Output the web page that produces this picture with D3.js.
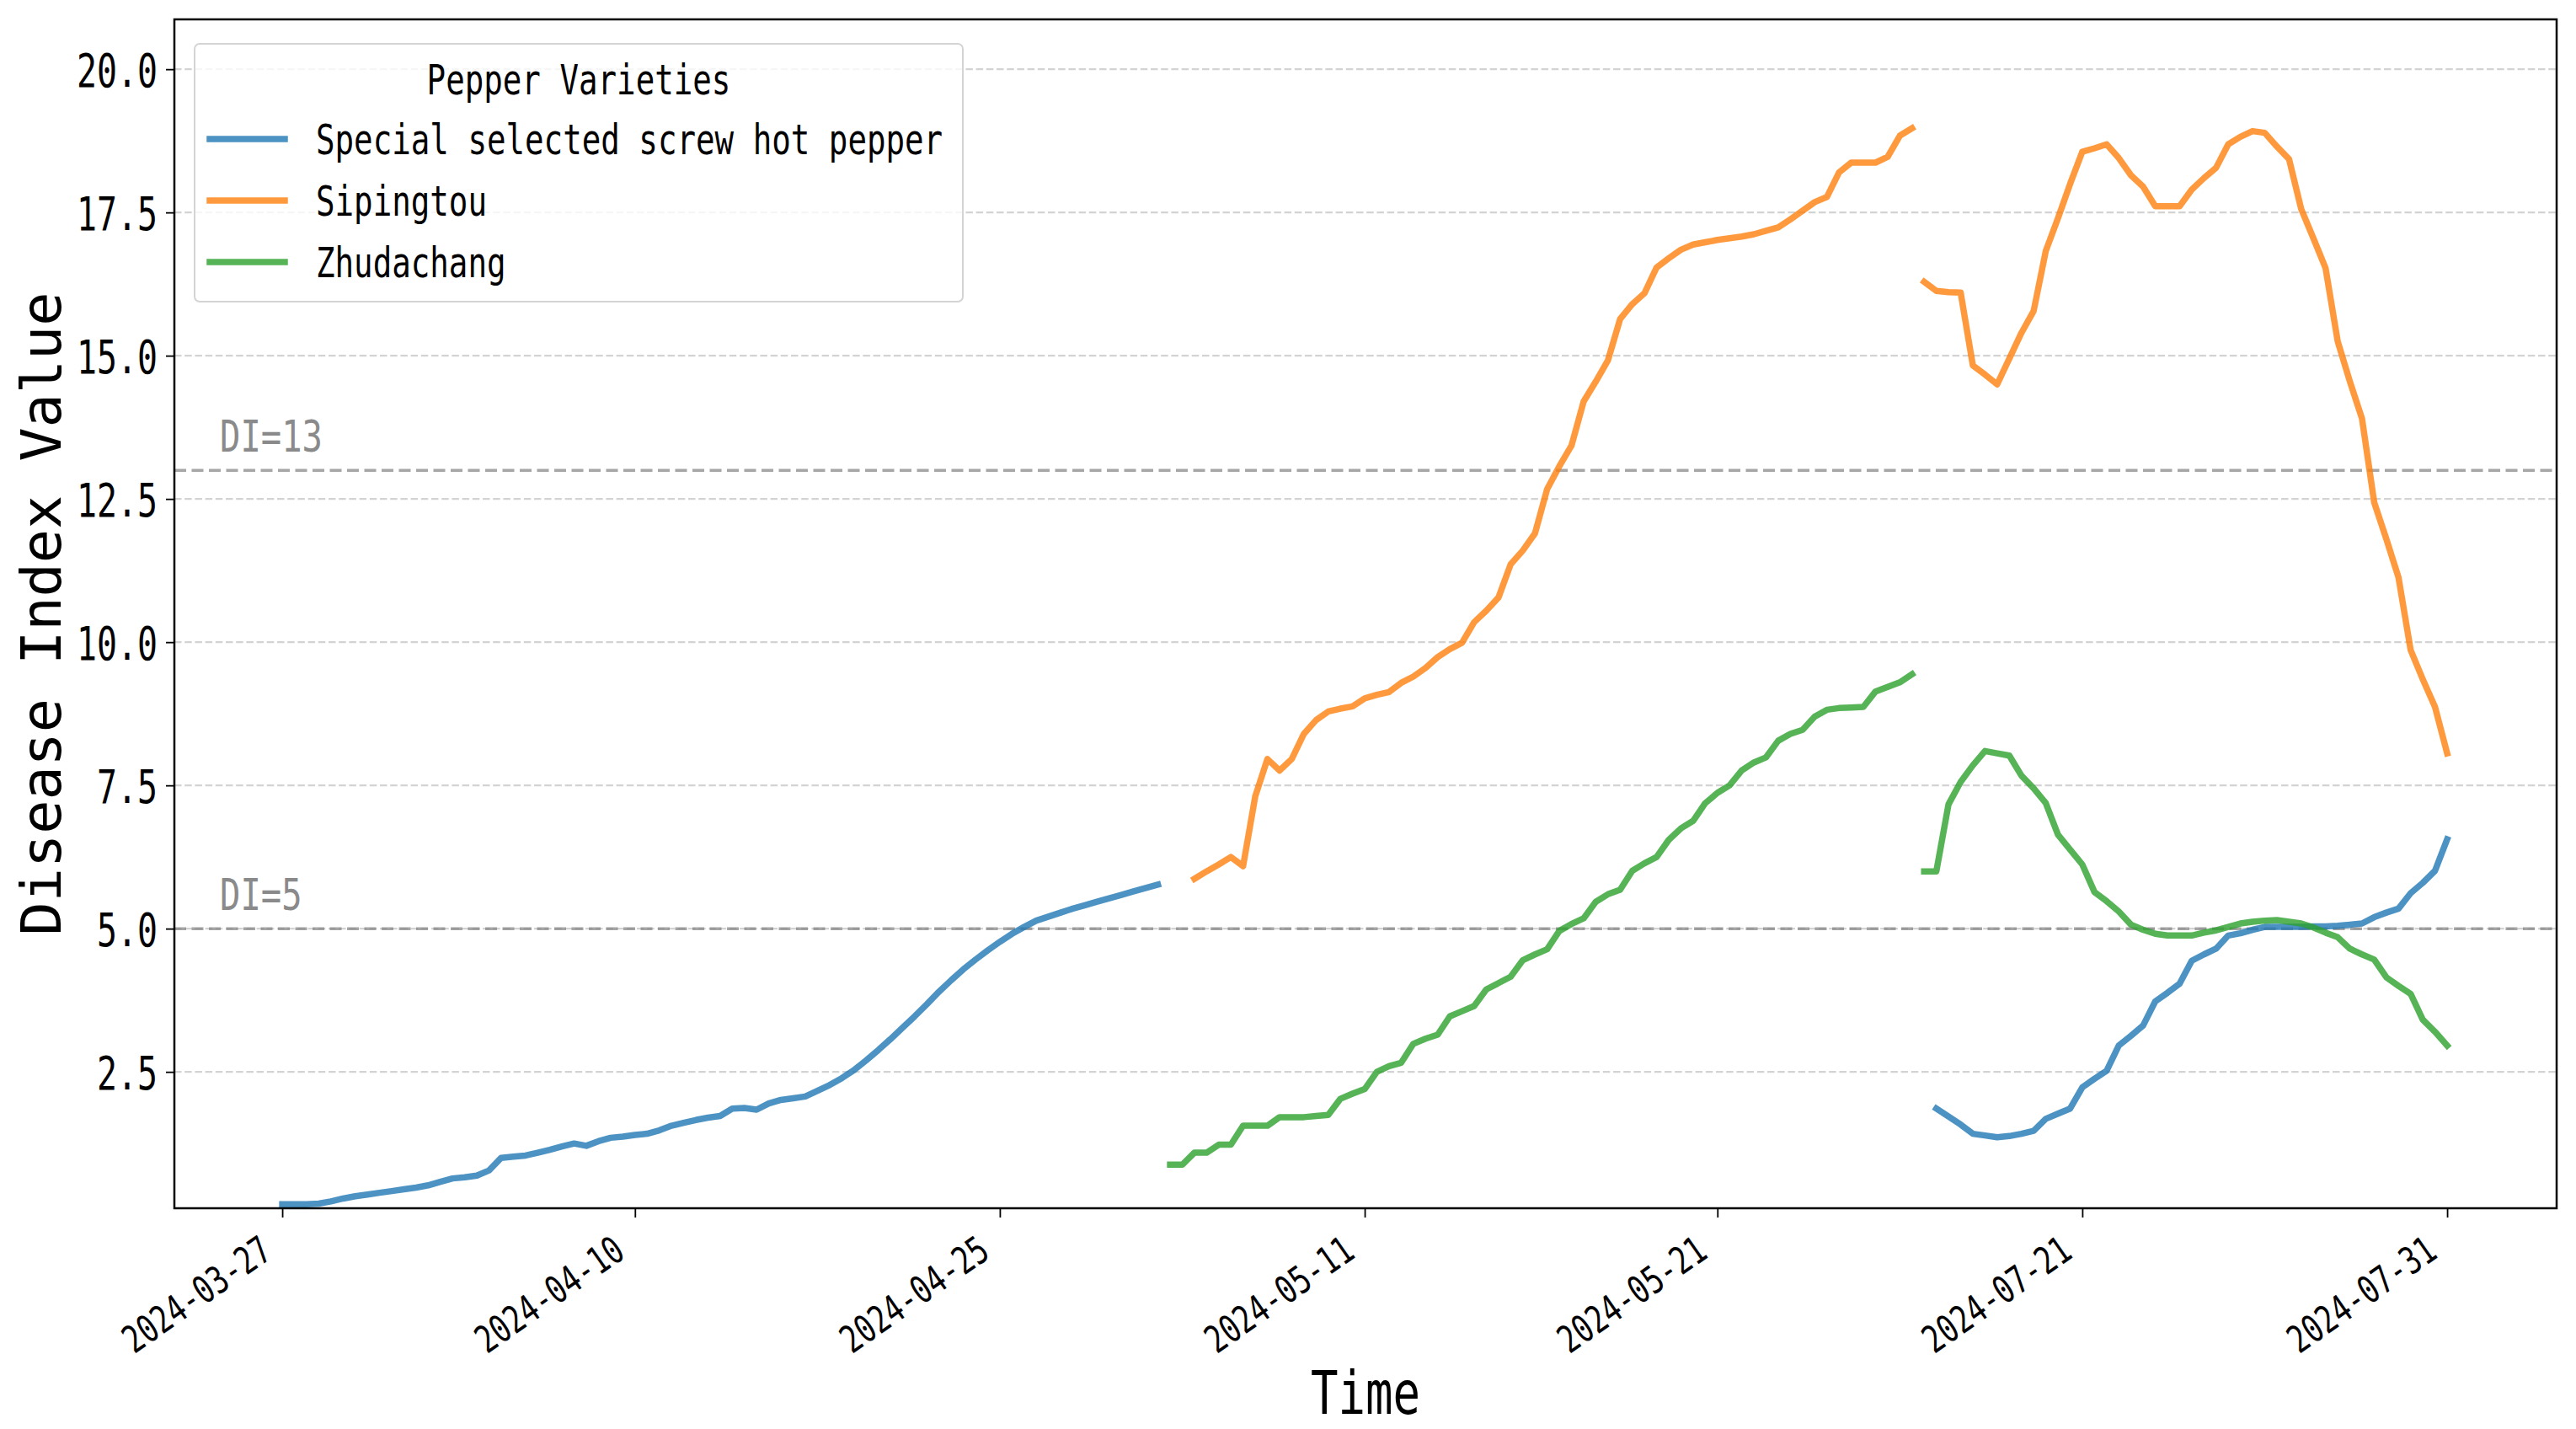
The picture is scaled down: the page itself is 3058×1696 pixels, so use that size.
<!DOCTYPE html>
<html>
<head>
<meta charset="utf-8">
<script src="https://cdn.jsdelivr.net/npm/d3@7"></script>
<style>
  html, body { margin: 0; padding: 0; background: #ffffff; }
  svg { display: block; }
</style>
</head>
<body>
<svg id="chart" width="3058" height="1696"></svg>
<script>
// ---------------- DATA ----------------
const seriesNames = ["Special selected screw hot pepper", "Sipingtou", "Zhudachang"];
const seriesColors = ["#1f77b4", "#ff7f0e", "#2ca02c"];

const xTickIndex = [0, 29, 59, 89, 118, 148, 178];
const xTickLabels = ["2024-03-27", "2024-04-10", "2024-04-25", "2024-05-11", "2024-05-21", "2024-07-21", "2024-07-31"];
const yTickValues = [2.5, 5.0, 7.5, 10.0, 12.5, 15.0, 17.5, 20.0];

const thresholdValues = [13, 5];
const thresholdLabels = ["DI=13", "DI=5"];

// Special selected screw hot pepper, period 1 (starts at index 0)
const pepperPeriod1Start = 0;
const pepperPeriod1 = [0.19,0.19,0.19,0.20,0.24,0.29,0.33,0.36,0.39,0.42,0.45,0.48,0.52,0.58,0.64,0.66,0.69,0.78,1.00,1.02,
  1.04,1.09,1.14,1.20,1.25,1.21,1.29,1.35,1.37,1.40,1.42,1.48,1.56,1.61,1.66,1.70,1.73,1.86,1.87,1.84,
  1.95,2.01,2.04,2.07,2.17,2.27,2.39,2.53,2.70,2.88,3.07,3.27,3.47,3.68,3.90,4.10,4.29,4.46,4.62,4.77,
  4.91,5.03,5.14,5.21,5.28,5.35,5.41,5.47,5.53,5.59,5.65,5.71,5.77];

// Special selected screw hot pepper, period 3 (starts at index 136)
const pepperPeriod3Start = 136;
const pepperPeriod3 = [1.86,1.72,1.58,1.42,1.39,1.36,1.38,1.42,1.47,1.68,1.77,1.86,2.23,2.38,2.52,2.96,3.13,3.31,3.73,3.88,
  4.04,4.44,4.55,4.65,4.88,4.92,4.98,5.03,5.03,5.03,5.03,5.04,5.04,5.05,5.07,5.09,5.20,5.28,5.35,5.62,
  5.80,6.01,6.56];

// Sipingtou, period 2 (starts at index 75)
const sipingtouPeriod2Start = 75;
const sipingtouPeriod2 = [5.87,6.00,6.12,6.25,6.09,7.31,7.96,7.76,7.96,8.40,8.64,8.79,8.84,8.88,9.02,9.08,9.13,9.29,9.40,9.55,
  9.74,9.88,9.99,10.35,10.55,10.78,11.36,11.60,11.90,12.67,13.07,13.43,14.20,14.55,14.92,15.64,15.90,16.09,16.54,16.70,
  16.85,16.94,16.98,17.02,17.05,17.08,17.12,17.18,17.24,17.38,17.53,17.68,17.77,18.20,18.37,18.37,18.37,18.47,18.84,18.97];

// Sipingtou, period 3 (starts at index 135)
const sipingtouPeriod3Start = 135;
const sipingtouPeriod3 = [16.29,16.13,16.11,16.10,14.83,14.67,14.50,14.95,15.40,15.78,16.83,17.40,18.00,18.56,18.62,18.69,18.45,18.15,17.95,17.61,
  17.61,17.61,17.90,18.10,18.28,18.69,18.82,18.92,18.89,18.65,18.43,17.56,17.05,16.53,15.25,14.55,13.90,12.44,11.80,11.13,
  9.86,9.35,8.87,8.06];

// Zhudachang, period 2 (starts at index 73)
const zhudachangPeriod2Start = 73;
const zhudachangPeriod2 = [0.88,0.88,1.09,1.09,1.23,1.23,1.56,1.56,1.56,1.71,1.71,1.71,1.73,1.75,2.03,2.12,2.20,2.50,2.60,2.66,
  2.99,3.08,3.15,3.47,3.56,3.65,3.94,4.05,4.16,4.45,4.55,4.64,4.96,5.08,5.18,5.47,5.60,5.68,6.01,6.14,
  6.25,6.55,6.75,6.88,7.19,7.37,7.50,7.76,7.90,7.99,8.28,8.40,8.47,8.70,8.82,8.85,8.86,8.87,9.14,9.22,
  9.30,9.44];

// Zhudachang, period 3 (starts at index 135)
const zhudachangPeriod3Start = 135;
const zhudachangPeriod3 = [6.00,6.00,7.17,7.56,7.85,8.10,8.06,8.02,7.67,7.45,7.19,6.64,6.38,6.12,5.64,5.48,5.30,5.07,4.98,4.91,
  4.88,4.88,4.88,4.93,4.97,5.03,5.09,5.12,5.14,5.15,5.12,5.09,5.02,4.93,4.85,4.65,4.55,4.46,4.15,4.00,
  3.86,3.41,3.20,2.96];

// ---------------- LAYOUT ----------------
const W = 3058, H = 1696;
const L = 207, R = 3035, T = 23, B = 1434;
const FONT = "'DejaVu Sans Mono', 'Liberation Mono', monospace";

const svg = d3.select("#chart");
svg.append("rect").attr("width", W).attr("height", H).attr("fill", "#ffffff");

const x = d3.scaleLinear().domain([-8.87, 187.0]).range([L, R]);
const y = d3.scaleLinear().domain([0.12, 20.87]).range([B, T]);

function mono(sel, fs, adv) {
  sel.attr("font-family", FONT)
     .attr("font-size", fs)
     .attr("textLength", function () { return this.textContent.length * adv; })
     .attr("lengthAdjust", "spacingAndGlyphs");
  return sel;
}

svg.append("defs").append("clipPath").attr("id", "plotclip")
  .append("rect").attr("x", L).attr("y", T).attr("width", R - L).attr("height", B - T);

// grid
const grid = svg.append("g");
grid.selectAll("line").data(yTickValues).join("line")
  .attr("x1", L).attr("x2", R)
  .attr("y1", d => y(d)).attr("y2", d => y(d))
  .attr("stroke", "#c8c8c8").attr("stroke-width", 2.2)
  .attr("stroke-dasharray", "8.5,3.7").attr("stroke-opacity", 0.8);

// threshold lines
const thr = svg.append("g");
thr.selectAll("line").data(thresholdValues).join("line")
  .attr("x1", L).attr("x2", R)
  .attr("y1", d => y(d)).attr("y2", d => y(d))
  .attr("stroke", "#808080").attr("stroke-opacity", 0.7).attr("stroke-width", 3.5)
  .attr("stroke-dasharray", "14,6.5");
mono(thr.selectAll("text").data(thresholdLabels).join("text")
  .attr("x", 261)
  .attr("y", (d, i) => y(thresholdValues[i]) - 22)
  .attr("fill", "#8a8a8a")
  .text(d => d), 52, 24.4);

// series lines
const segments = [
  { s: 0, start: pepperPeriod1Start, vals: pepperPeriod1 },
  { s: 0, start: pepperPeriod3Start, vals: pepperPeriod3 },
  { s: 1, start: sipingtouPeriod2Start, vals: sipingtouPeriod2 },
  { s: 1, start: sipingtouPeriod3Start, vals: sipingtouPeriod3 },
  { s: 2, start: zhudachangPeriod2Start, vals: zhudachangPeriod2 },
  { s: 2, start: zhudachangPeriod3Start, vals: zhudachangPeriod3 }
];
const line = d3.line().x(d => x(d[0])).y(d => y(d[1]));
const lines = svg.append("g").attr("clip-path", "url(#plotclip)");
segments.forEach(seg => {
  const pts = seg.vals.map((v, i) => [seg.start + i, v]);
  lines.append("path")
    .attr("d", line(pts))
    .attr("fill", "none")
    .attr("stroke", seriesColors[seg.s])
    .attr("stroke-opacity", 0.8)
    .attr("stroke-width", 7.5)
    .attr("stroke-linejoin", "round")
    .attr("stroke-linecap", "square");
});

// axes
const yAxis = svg.append("g").attr("transform", `translate(${L},0)`)
  .call(d3.axisLeft(y).tickValues(yTickValues).tickSize(10).tickFormat(d3.format(".1f")));
yAxis.select(".domain").remove();
yAxis.selectAll(".tick line").attr("stroke", "#000").attr("stroke-width", 1.8);
mono(yAxis.selectAll(".tick text")
  .attr("x", -20).attr("dy", null).attr("y", 20)
  .attr("fill", "#000").attr("text-anchor", "end"), 55, 24);

const xAxis = svg.append("g").attr("transform", `translate(0,${B})`)
  .call(d3.axisBottom(x).tickValues(xTickIndex).tickSize(11).tickFormat((d, i) => xTickLabels[i]));
xAxis.select(".domain").remove();
xAxis.selectAll(".tick line").attr("stroke", "#000").attr("stroke-width", 1.8);
mono(xAxis.selectAll(".tick text")
  .attr("x", -10).attr("y", 57).attr("dy", null)
  .attr("fill", "#000").attr("text-anchor", "end")
  .attr("transform", "rotate(-35,-10,57)"), 45, 20.3);

// frame
svg.append("rect").attr("x", L).attr("y", T).attr("width", R - L).attr("height", B - T)
  .attr("fill", "none").attr("stroke", "#000").attr("stroke-width", 2.5);

// axis labels
mono(svg.append("text").attr("x", (L + R) / 2).attr("y", 1678)
  .attr("text-anchor", "middle").attr("fill", "#000").text("Time"), 71, 32.5);
mono(svg.append("text").attr("transform", `translate(72,${(T + B) / 2}) rotate(-90)`)
  .attr("text-anchor", "middle").attr("fill", "#000").text("Disease Index Value"), 66, 40.2);

// legend
const lg = svg.append("g");
lg.append("rect").attr("x", 231).attr("y", 52).attr("width", 912).attr("height", 306)
  .attr("rx", 6).attr("fill", "#ffffff").attr("fill-opacity", 0.8)
  .attr("stroke", "#d4d4d4").attr("stroke-width", 2);
mono(lg.append("text").attr("x", 687).attr("y", 111.5).attr("text-anchor", "middle")
  .attr("fill", "#000").text("Pepper Varieties"), 50, 22.55);
const items = lg.selectAll("g.item").data(seriesNames).join("g").attr("class", "item")
  .attr("transform", (d, i) => `translate(0,${165 + i * 73})`);
items.append("line").attr("x1", 249).attr("x2", 338).attr("y1", 0).attr("y2", 0)
  .attr("stroke", (d, i) => seriesColors[i]).attr("stroke-opacity", 0.8)
  .attr("stroke-width", 7.5).attr("stroke-linecap", "square");
mono(items.append("text").attr("x", 375).attr("y", 18).attr("fill", "#000").text(d => d), 49.4, 22.55);
</script>
</body>
</html>
